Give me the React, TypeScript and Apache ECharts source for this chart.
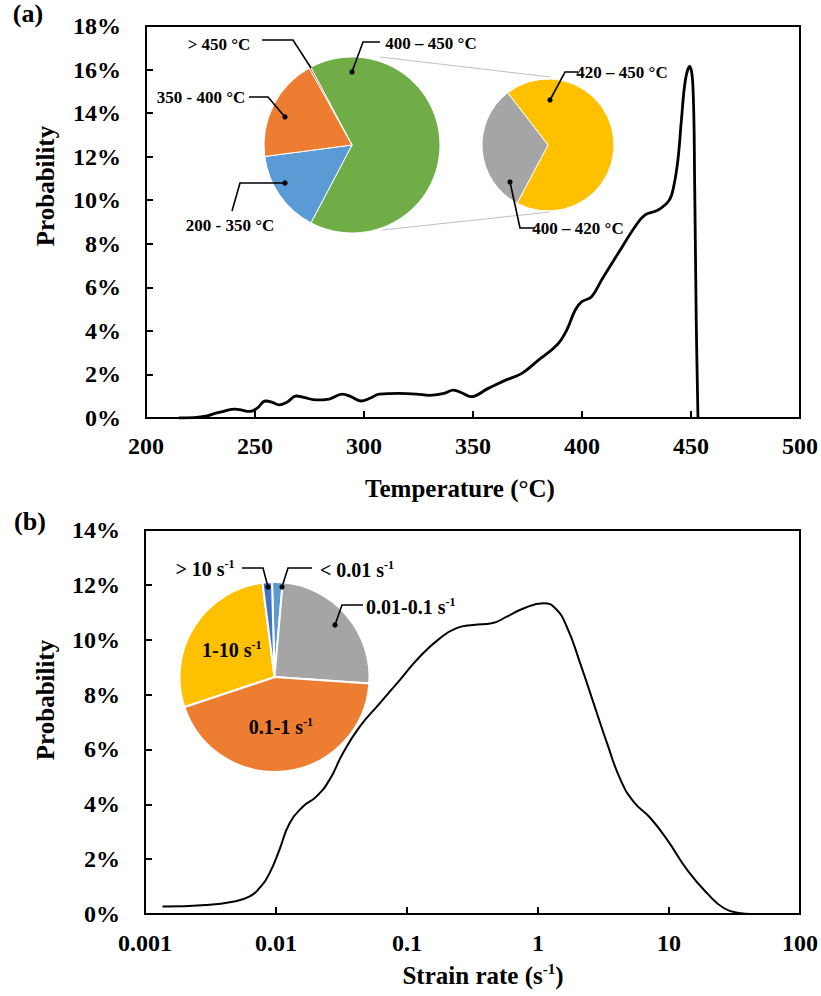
import React, { useEffect, useRef } from "react";
import * as echarts from "echarts";

const FONT = '"Liberation Serif", "Times New Roman", serif';

// (a) temperature distribution
const temperature = [
  215, 222, 228, 232, 236, 240.7, 244, 247.5, 251, 254.8, 258, 261, 265, 268.9, 273, 278, 284, 290, 294,
  298.6, 303, 307, 316, 324, 330, 336.6, 341, 345, 349, 357, 365, 372.4, 380, 388.5, 393, 396.9, 399.9,
  404.4, 409, 416.6, 424.3, 428.8, 434.9, 440, 442, 444, 445.6, 447.4, 449.4, 450.9, 451.7, 452.4, 453.2,
];
const temperatureProb = [
  0, 0.02, 0.1, 0.22, 0.32, 0.41, 0.36, 0.3, 0.45, 0.78, 0.72, 0.6, 0.75, 1.01, 0.93, 0.83, 0.87, 1.1, 0.98,
  0.78, 0.92, 1.1, 1.13, 1.1, 1.04, 1.13, 1.28, 1.15, 0.98, 1.36, 1.74, 2.05, 2.66, 3.35, 4.04, 4.96, 5.34,
  5.57, 6.34, 7.56, 8.78, 9.32, 9.55, 10.0, 10.6, 11.85, 13.68, 15.5, 16.15, 15.2, 10.6, 4.5, 0,
];
const temperatureTicks = [200, 250, 300, 350, 400, 450, 500];

// (a) share of each temperature range, in clockwise order around the main pie
const tempRanges = ["400 – 450 °C", "200 - 350 °C", "350 - 400 °C", "> 450 °C"];
const tempShares = [65.5, 15.2, 19.0, 0.3];
const tempColors = ["#70AD47", "#5B9BD5", "#ED7D31", "#FF2A1A"];

// (a) split of the 400 – 450 °C range
const subRanges = ["420 – 450 °C", "400 – 420 °C"];
const subShares = [44.7, 20.8];
const subColors = ["#FFC000", "#A5A5A5"];

// (b) strain-rate distribution
const strainRate = [
  0.00136, 0.00292, 0.00467, 0.00625, 0.00746, 0.00891, 0.0106, 0.0127, 0.016, 0.0203, 0.0256, 0.0324,
  0.0436, 0.0619, 0.0881, 0.125, 0.178, 0.239, 0.321, 0.444, 0.578, 0.774, 1.1, 1.36, 1.66, 2.1, 2.66,
  3.37, 4.27, 5.38, 7.23, 9.7, 13.8, 19.6, 26.3, 35.4, 42.2,
];
const strainRateProb = [
  0.27, 0.33, 0.45, 0.63, 0.94, 1.48, 2.33, 3.31, 3.91, 4.28, 4.89, 5.86, 6.83, 7.68, 8.53, 9.38, 10.05,
  10.42, 10.54, 10.6, 10.84, 11.14, 11.33, 11.14, 10.47, 9.14, 7.68, 6.22, 4.89, 4.09, 3.49, 2.7, 1.6, 0.75,
  0.21, 0.03, 0,
];

// (b) share of each strain-rate range, clockwise from 12 o'clock
const rateRanges = ["< 0.01", "0.01-0.1", "0.1-1", "1-10", "> 10"];
const rateShares = [1.8, 24.7, 43.8, 28.1, 1.6];
const rateColors = ["#5B9BD5", "#A5A5A5", "#ED7D31", "#FFC000", "#4472C4"];
const rateInside = [false, false, true, true, false];

const supRich = (size: number) => ({
  n: { fontFamily: FONT, fontWeight: "bold" as const, fontSize: size, color: "#000", lineHeight: size + 2 },
  sup: {
    fontFamily: FONT,
    fontWeight: "bold" as const,
    fontSize: Math.round(size * 0.6),
    color: "#000",
    lineHeight: Math.round(size * 0.6),
    verticalAlign: "top" as const,
  },
});

function label(text: string, x: number, y: number, size = 17, align = "center") {
  return {
    type: "text",
    x,
    y,
    z: 100,
    silent: true,
    style: {
      text,
      fill: "#000",
      fontFamily: FONT,
      fontWeight: "bold",
      fontSize: size,
      align,
      verticalAlign: "middle",
    },
  };
}

function richLabel(text: string, x: number, y: number, size: number, align = "center") {
  return {
    type: "text",
    x,
    y,
    z: 100,
    silent: true,
    style: {
      text,
      rich: supRich(size),
      align,
      verticalAlign: "middle",
    },
  };
}

function leader(points: number[][], dot = true) {
  const els: any[] = [
    {
      type: "polyline",
      z: 100,
      silent: true,
      shape: { points },
      style: { stroke: "#000", lineWidth: 1.6, fill: null },
    },
  ];
  if (dot) {
    const p = points[points.length - 1];
    els.push({ type: "circle", z: 100, silent: true, shape: { cx: p[0], cy: p[1], r: 2.6 }, style: { fill: "#000" } });
  }
  return els;
}

const axisTextStyle = { fontFamily: FONT, fontWeight: "bold" as const, fontSize: 24, color: "#000" };

export default function App() {
  const ref = useRef<HTMLDivElement>(null);

  useEffect(() => {
    if (!ref.current) return;
    const chart = echarts.init(ref.current, undefined, { renderer: "svg" });

    const mainPieStart = 90 + 28;
    const subPieStart = 90 + 37.7;

    const option: any = {
      animation: false,
      textStyle: { fontFamily: FONT },
      grid: [
        { left: 146, top: 26, width: 657, height: 392, show: true, borderColor: "#000", borderWidth: 2 },
        { left: 145, top: 530, width: 655, height: 384, show: true, borderColor: "#000", borderWidth: 2 },
      ],
      xAxis: [
        {
          type: "value",
          gridIndex: 0,
          min: temperatureTicks[0],
          max: temperatureTicks[temperatureTicks.length - 1],
          interval: 50,
          axisLine: { show: true, lineStyle: { color: "#000", width: 2 } },
          axisTick: { show: true, inside: true, length: 7, lineStyle: { color: "#000", width: 2 } },
          axisLabel: { ...axisTextStyle, margin: 16 },
          splitLine: { show: false },
        },
        {
          type: "log",
          gridIndex: 1,
          logBase: 10,
          min: 0.001,
          max: 100,
          splitNumber: 5,
          axisLine: { show: true, lineStyle: { color: "#000", width: 2 } },
          axisTick: { show: true, inside: true, length: 7, lineStyle: { color: "#000", width: 2 } },
          axisLabel: {
            ...axisTextStyle,
            margin: 17,
            formatter: (v: number) => String(parseFloat(v.toPrecision(2))),
          },
          splitLine: { show: false },
          minorTick: { show: false },
        },
      ],
      yAxis: [
        {
          type: "value",
          gridIndex: 0,
          min: 0,
          max: 18,
          interval: 2,
          axisLine: { show: true, lineStyle: { color: "#000", width: 2 } },
          axisTick: { show: true, inside: true, length: 7, lineStyle: { color: "#000", width: 2 } },
          axisLabel: { ...axisTextStyle, margin: 25, formatter: "{value}%" },
          splitLine: { show: false },
        },
        {
          type: "value",
          gridIndex: 1,
          min: 0,
          max: 14,
          interval: 2,
          axisLine: { show: true, lineStyle: { color: "#000", width: 2 } },
          axisTick: { show: true, inside: true, length: 7, lineStyle: { color: "#000", width: 2 } },
          axisLabel: { ...axisTextStyle, margin: 25, formatter: "{value}%" },
          splitLine: { show: false },
        },
      ],
      series: [
        {
          type: "line",
          xAxisIndex: 0,
          yAxisIndex: 0,
          data: temperature.map((t, i) => [t, temperatureProb[i]]),
          smooth: 0.4,
          showSymbol: false,
          lineStyle: { color: "#000", width: 2.8, join: "round" },
          z: 3,
        },
        {
          type: "line",
          xAxisIndex: 1,
          yAxisIndex: 1,
          data: strainRate.map((r, i) => [r, strainRateProb[i]]),
          smooth: 0.5,
          showSymbol: false,
          lineStyle: { color: "#000", width: 2, join: "round" },
          z: 3,
        },
        {
          type: "pie",
          center: [352, 145],
          radius: 88,
          startAngle: mainPieStart,
          clockwise: true,
          label: { show: false },
          labelLine: { show: false },
          itemStyle: { borderColor: "#fff", borderWidth: 1 },
          data: tempRanges.map((name, i) => ({ name, value: tempShares[i], itemStyle: { color: tempColors[i] } })),
          z: 5,
        },
        {
          type: "pie",
          center: [548, 145],
          radius: 66,
          startAngle: subPieStart,
          clockwise: true,
          label: { show: false },
          labelLine: { show: false },
          itemStyle: { borderColor: "#fff", borderWidth: 1 },
          data: subRanges.map((name, i) => ({ name, value: subShares[i], itemStyle: { color: subColors[i] } })),
          z: 5,
        },
        {
          type: "pie",
          center: [274.5, 677],
          radius: 95,
          startAngle: 91.5,
          clockwise: true,
          labelLine: { show: false },
          itemStyle: { borderColor: "#fff", borderWidth: 2 },
          data: rateRanges.map((name, i) => ({
            name,
            value: rateShares[i],
            itemStyle: { color: rateColors[i] },
            label: rateInside[i]
              ? {
                  show: true,
                  position: "inside",
                  formatter: "{n|{b} s}{sup|-1}",
                  rich: supRich(20),
                }
              : { show: false },
          })),
          z: 5,
        },
      ],
      graphic: [
        // panel tags
        label("(a)", 28, 13, 26),
        label("(b)", 30, 521, 26),
        // axis titles
        label("Temperature (°C)", 460, 488, 25),
        richLabel("{n|Strain rate (s}{sup|-1}{n|)}", 483, 975, 25),
        { ...label("Probability", 45, 186, 25), rotation: Math.PI / 2 },
        { ...label("Probability", 45, 700, 25), rotation: Math.PI / 2 },
        // connectors between the main pie and its split
        {
          type: "line",
          z: 4,
          silent: true,
          shape: { x1: 380, y1: 57, x2: 550, y2: 77 },
          style: { stroke: "#BFBFBF", lineWidth: 1 },
        },
        {
          type: "line",
          z: 4,
          silent: true,
          shape: { x1: 382, y1: 230, x2: 550, y2: 212 },
          style: { stroke: "#BFBFBF", lineWidth: 1 },
        },
        // temperature pie labels
        label(tempRanges[3], 219, 44),
        ...leader([[262, 40], [293, 40], [311, 68]], false),
        label(tempRanges[0], 431, 43),
        ...leader([[380, 42], [363, 42], [352, 72]]),
        label(tempRanges[2], 201, 97),
        ...leader([[249, 97], [268, 97], [285, 117]]),
        label(tempRanges[1], 230, 225),
        ...leader([[232, 211], [240, 183], [285, 183]]),
        label(subRanges[0], 622, 72),
        ...leader([[578, 72], [565, 72], [550, 100]]),
        label(subRanges[1], 578, 228),
        ...leader([[535, 228], [520, 228], [510, 182]]),
        // strain-rate pie labels
        richLabel(`{n|${rateRanges[4]} s}{sup|-1}`, 205, 569, 20),
        ...leader([[242, 568], [263, 568], [268, 587]]),
        richLabel(`{n|${rateRanges[0]} s}{sup|-1}`, 357, 570, 20),
        ...leader([[312, 568], [288, 568], [282, 587]]),
        richLabel(`{n|${rateRanges[1]} s}{sup|-1}`, 366, 607, 20, "left"),
        ...leader([[363, 605], [342, 605], [335, 625]]),
      ],
    };

    chart.setOption(option);
    return () => chart.dispose();
  }, []);

  return (
    <div
      ref={ref}
      style={{ position: "absolute", left: 0, top: 0, width: 821, height: 996, background: "#fff" }}
    />
  );
}
